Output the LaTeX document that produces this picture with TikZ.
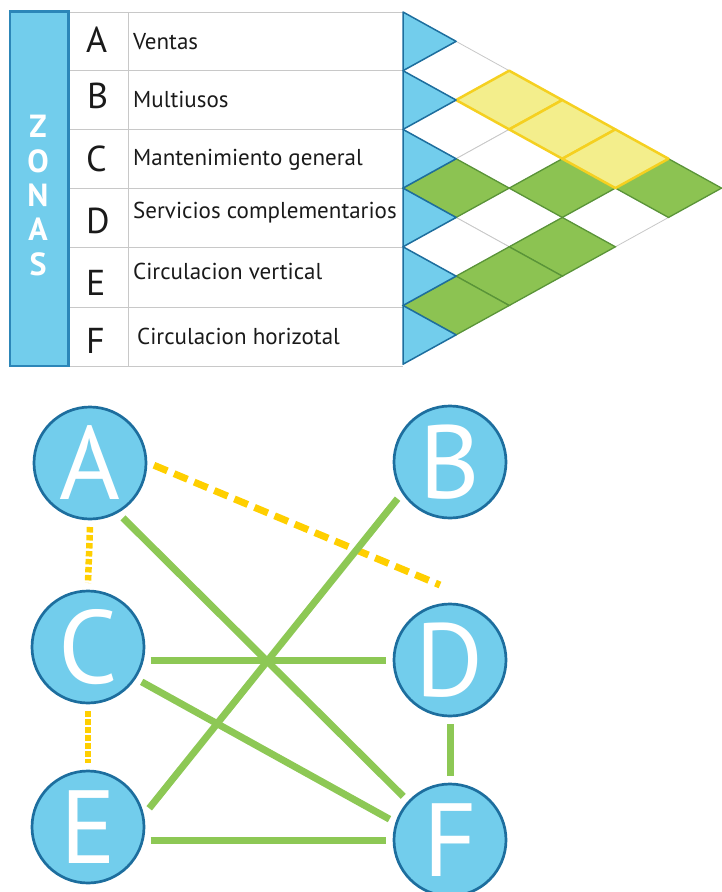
\documentclass[tikz,border=0pt]{standalone}
\usepackage{fontspec}
\setmainfont{PT Sans}
\definecolor{lblue}{HTML}{72CDEC}
\definecolor{dblue}{HTML}{1D6E9E}
\definecolor{barborder}{HTML}{2C86B8}
\definecolor{gline}{HTML}{8DC855}
\definecolor{gfill}{HTML}{8CC352}
\definecolor{gedge}{HTML}{5A9438}
\definecolor{yfill}{HTML}{F3EE8C}
\definecolor{yedge}{HTML}{F5D020}
\definecolor{ydash}{HTML}{FFCF00}
\definecolor{gridc}{HTML}{C8C8C8}
\definecolor{txt}{HTML}{1A1A1A}
\tikzset{
  gnode/.style={circle, minimum size=112pt, inner sep=0pt, outer sep=8pt, fill=lblue, draw=dblue, line width=2.7pt, text=white, font=\fontsize{104}{104}\selectfont},
  gedgeline/.style={draw=gline, line width=7pt},
  ydot/.style={draw=ydash, line width=6.5pt, dash pattern=on 5.5pt off 2.5pt},
  ydashline/.style={draw=ydash, line width=7pt, dash pattern=on 14.5pt off 7.3pt},
  letterlab/.style={anchor=base west, inner sep=0pt, text=txt, font=\fontsize{36}{36}\selectfont},
  rowlab/.style={anchor=base west, inner sep=0pt, text=txt, font=\fontsize{23}{23}\selectfont},
  zlab/.style={anchor=base, inner sep=0pt, text=white, font=\fontsize{32}{32}\selectfont\bfseries},
  whitecell/.style={fill=white, draw=gridc, line width=0.8pt},
  greencell/.style={fill=gfill, draw=gedge, line width=1.3pt},
  yellowcell/.style={fill=yfill, draw=yedge, line width=2.5pt, line join=round},
  tri/.style={fill=lblue, draw=dblue, line width=1.5pt, line join=round},
}
\newcommand\mydia[3]{\path[#3] ({403+\W*(#2-#1)-\W},{12+\H*(#1+#2+1)}) -- ++(\W,-\H) -- ++(\W,\H) -- ++(-\W,\H) -- cycle;}
\begin{document}
\begin{tikzpicture}[x=1pt,y=-1pt]
\useasboundingbox (0,0) rectangle (722,892);
\def\W{53.1}
\def\H{29.35}
% ---- table ----
\fill[lblue] (10,11.5) rectangle (68.8,366);
\draw[barborder, line width=2.7pt] (10,11.5) rectangle (68.8,366);
\foreach \yy in {12,70,129,188,247,307,366} \draw[gridc, line width=0.9pt] (70.2,\yy) -- (403,\yy);
\draw[gridc, line width=0.9pt] (128,12) -- (128,366);
\node[zlab] (z1) at (38,137) {Z};
\node[zlab] (z2) at (38,172) {O};
\node[zlab] (z3) at (38,206) {N};
\node[zlab] (z4) at (38,240) {A};
\node[zlab] (z5) at (38,275) {S};
\node[letterlab] (la) at (86,52) {A};
\node[letterlab] (lb) at (87,108) {B};
\node[letterlab] (lc) at (86,171) {C};
\node[letterlab] (ld) at (86,233) {D};
\node[letterlab] (le) at (86,295) {E};
\node[letterlab] (lf) at (86,353) {F};
\node[rowlab] (ta) at (133,49) {Ventas};
\node[rowlab] (tb) at (133,107) {Multiusos};
\node[rowlab] (tc) at (133,165) {Mantenimiento general};
\node[rowlab] (td) at (133,218) {Servicios complementarios};
\node[rowlab] (te) at (133,279) {Circulacion vertical};
\node[rowlab] (tf) at (137,344) {Circulacion horizotal};
% ---- matrix ----
\mydia{0}{1}{whitecell}
\mydia{1}{2}{whitecell}
\mydia{1}{3}{whitecell}
\mydia{1}{5}{whitecell}
\mydia{2}{4}{whitecell}
\mydia{3}{4}{whitecell}
\mydia{0}{5}{greencell}
\mydia{1}{4}{greencell}
\mydia{2}{3}{greencell}
\mydia{2}{5}{greencell}
\mydia{3}{5}{greencell}
\mydia{4}{5}{greencell}
\mydia{0}{2}{yellowcell}
\mydia{0}{3}{yellowcell}
\mydia{0}{4}{yellowcell}
\foreach \i in {0,...,5}
  \path[tri] (403,{12+2*\H*\i}) -- ++(\W,\H) -- ++(-\W,\H) -- cycle;
% ---- graph ----
\node[gnode] (A) at (90,463) {A};
\node[gnode] (B) at (450,462) {B};
\node[gnode] (C) at (88,647) {C};
\node[gnode] (D) at (450,660) {D};
\node[gnode] (E) at (88,827) {E};
\node[gnode] (F) at (450,840) {F};
\coordinate (adend) at (440,585);
\draw[ydot] (A.south) -- (C.north);
\draw[ydot] (C.south) -- (E.north);
\draw[ydashline] (A.-2) -- (adend);
\draw[gedgeline] (A.-59) -- (F.137);
\draw[gedgeline] (B.-145) -- (E.17);
\draw[gedgeline] (C.-12) -- (C.-12 -| D.west);
\draw[gedgeline] (C.-33) -- (F.161);
\draw[gedgeline] (D.south) -- (F.north);
\draw[gedgeline] (E.-12) -- (E.-12 -| F.west);
\end{tikzpicture}
\end{document}
